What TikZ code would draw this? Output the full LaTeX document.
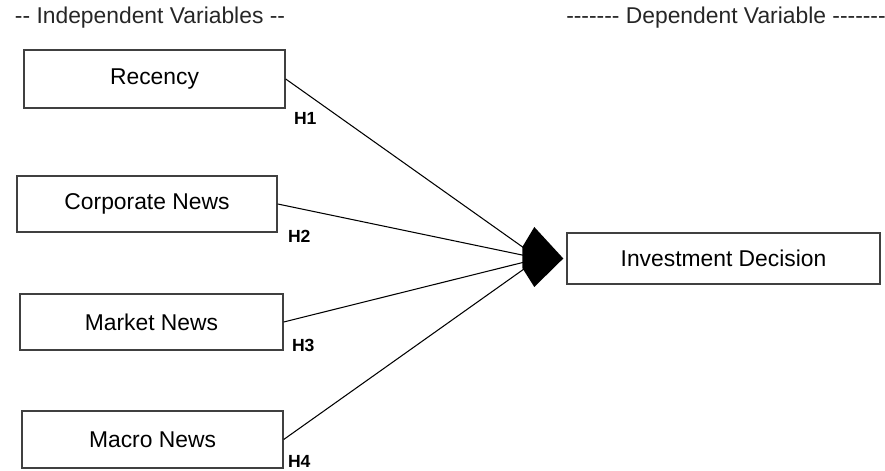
\documentclass[tikz,border=0pt]{standalone}
\usepackage{fontspec}
\setmainfont{Liberation Sans}
\usepackage{tikz}
\usetikzlibrary{positioning}
\tikzstyle{varbox} = [rectangle, draw=black!75, line width=0.8pt, minimum height=1.12cm, text centered, font=\fontsize{13}{15}\selectfont]
\tikzstyle{heading} = [font=\fontsize{13}{15}\selectfont, text=black!85]
\tikzstyle{hyp} = [font=\fontsize{10}{12}\selectfont\bfseries, inner sep=0pt]
\tikzstyle{link} = [line width=0.6pt]

\begin{document}
\begin{tikzpicture}
\useasboundingbox (0,0) rectangle (17.7,9.42);
% headings
\node[heading] (indep) at (3.0,9.06) {-{}- Independent Variables -{}-};
\node[heading] (dep) at (14.52,9.06) {-{}-{}-{}-{}-{}-{}- Dependent Variable -{}-{}-{}-{}-{}-{}-};

% variables
\node[varbox, minimum width=5.22cm, minimum height=1.16cm] (recency) at (3.09,7.84) {Recency};
\node[varbox, minimum width=5.2cm] (corporate) at (2.94,5.34) {Corporate News};
\node[varbox, minimum width=5.26cm] (market) at (3.03,2.98) {Market News};
\node[varbox, minimum width=5.22cm, minimum height=1.14cm] (macro) at (3.05,0.63) {Macro News};
\node[varbox, minimum width=6.26cm, minimum height=1.02cm] (invest) at (14.47,4.25) {Investment Decision};

% hypotheses
\node[hyp, right=0.16cm of recency.south east, yshift=-0.19cm] (h1) {H1};
\node[hyp, right=0.2cm of corporate.south east, yshift=-0.08cm] (h2) {H2};
\node[hyp, right=0.16cm of market.south east, yshift=0.1cm] (h3) {H3};
\node[hyp, right=0.08cm of macro.south east, yshift=0.14cm] (h4) {H4};

% links into the head
\coordinate[left=0.55cm of invest.west] (hub);
\draw[link] (recency.east) -- (hub);
\draw[link] (corporate.east) -- (hub);
\draw[link] (market.east) -- (hub);
\draw[link] (macro.east) -- (hub);
\fill ([xshift=-0.06cm]invest.west) -- ++(-0.58,0.63) -- ++(-0.24,-0.40) -- ++(0,-0.42) -- ++(0.24,-0.38) -- cycle;

\end{tikzpicture}
\end{document}
